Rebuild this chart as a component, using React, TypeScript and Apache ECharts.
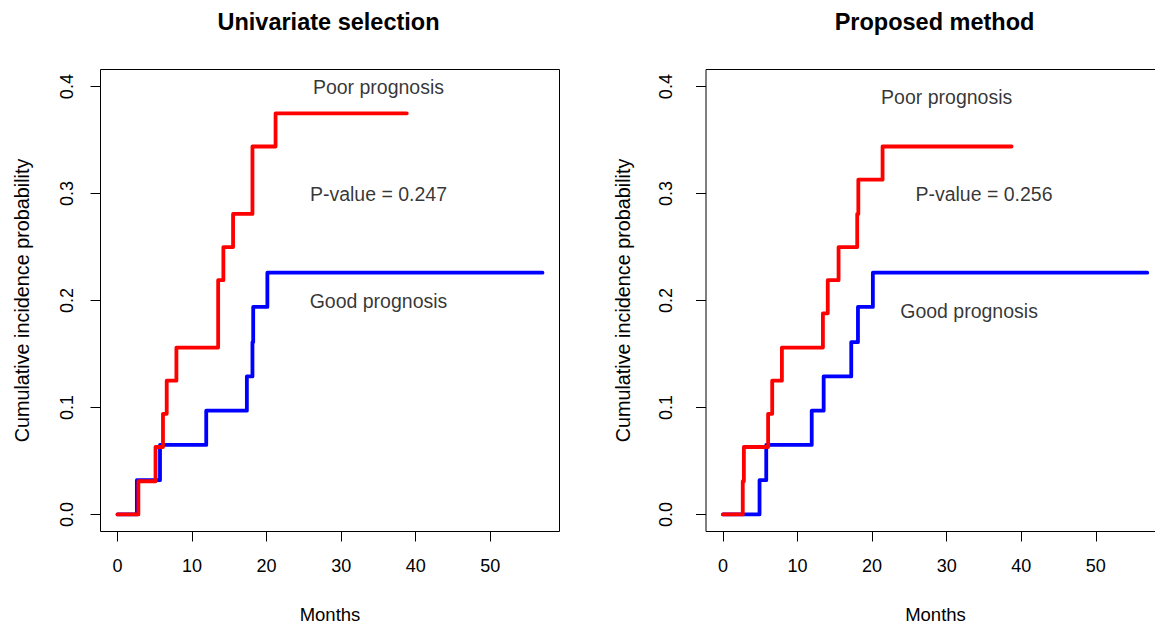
import React, { useEffect, useRef } from "react";
import * as echarts from "echarts";

// ---------- data ----------
const xTicks = [0, 10, 20, 30, 40, 50];
const yTicks = [0, 0.1, 0.2, 0.3, 0.4];

// Univariate selection
const uniPoorTime = [0, 2.8, 5.1, 6.1, 6.6, 7.9, 13.5, 14.2, 15.5, 18.1, 21.2, 38.8];
const uniPoorCI = [0, 0.031, 0.063, 0.094, 0.125, 0.156, 0.219, 0.25, 0.281, 0.344, 0.375, 0.375];
const uniGoodTime = [0, 2.6, 5.7, 11.9, 17.35, 18.1, 18.2, 20.1, 57];
const uniGoodCI = [0, 0.032, 0.065, 0.097, 0.129, 0.161, 0.194, 0.226, 0.226];

// Proposed method
const propPoorTime = [0, 2.65, 2.8, 6.05, 6.6, 7.9, 13.4, 14.05, 15.5, 18.0, 18.15, 21.4, 38.7];
const propPoorCI = [0, 0.031, 0.063, 0.094, 0.125, 0.156, 0.188, 0.219, 0.25, 0.281, 0.313, 0.344, 0.344];
const propGoodTime = [0, 4.9, 5.8, 11.9, 13.5, 17.2, 18.1, 20.1, 56.9];
const propGoodCI = [0, 0.032, 0.065, 0.097, 0.129, 0.161, 0.194, 0.226, 0.226];

const panelTitles = ["Univariate selection", "Proposed method"];
const xName = "Months";
const yName = "Cumulative incidence probability";

// annotations: [x, y, text] in data coordinates
const uniNotes: [number, number, string][] = [
  [35, 0.4, "Poor prognosis"],
  [35, 0.3, "P-value = 0.247"],
  [35, 0.2, "Good prognosis"],
];
const propNotes: [number, number, string][] = [
  [30, 0.39, "Poor prognosis"],
  [35, 0.3, "P-value = 0.256"],
  [33, 0.19, "Good prognosis"],
];

const FONT = "'Liberation Sans', Arial, Helvetica, sans-serif";

function zip(t: number[], v: number[]) {
  return t.map((x, i) => [x, v[i]]);
}

export default function App() {
  const ref = useRef<HTMLDivElement>(null);
  useEffect(() => {
    if (!ref.current) return;
    const chart = echarts.init(ref.current, undefined, { renderer: "svg" });

    const grids = [
      { left: 100.5, top: 69.5, width: 459, height: 462 },
      { left: 706, top: 69.5, width: 459, height: 462 },
    ];
    const labelMargins = [25, 31];
    const nameGaps = [69, 73];

    const xAxis = grids.map((_, i) => ({
      gridIndex: i,
      type: "value",
      position: "bottom",
      min: -2.28,
      max: 59.28,
      axisLine: { show: false, onZero: false },
      splitLine: { show: false },
      axisTick: { show: true, length: 10, customValues: xTicks, lineStyle: { color: "#000", width: 1 } },
      axisLabel: { customValues: xTicks, margin: 25, fontSize: 18, color: "#000", fontFamily: FONT },
      name: xName,
      nameLocation: "middle",
      nameGap: 73,
      nameTextStyle: { fontSize: 18.5, color: "#000", fontFamily: FONT },
    }));
    const yAxis = grids.map((_, i) => ({
      gridIndex: i,
      type: "value",
      position: "left",
      min: -0.016,
      max: 0.416,
      axisLine: { show: false, onZero: false },
      splitLine: { show: false },
      axisTick: { show: true, length: 10, customValues: yTicks, lineStyle: { color: "#000", width: 1 } },
      axisLabel: {
        customValues: yTicks,
        rotate: 90,
        margin: labelMargins[i],
        fontSize: 18,
        color: "#000",
        fontFamily: FONT,
        formatter: (v: number) => v.toFixed(1),
      },
      name: yName,
      nameLocation: "middle",
      nameRotate: 90,
      nameGap: nameGaps[i],
      nameTextStyle: { fontSize: 19.8, color: "#000", fontFamily: FONT },
    }));

    const stepLine = (idx: number, data: number[][], color: string) => ({
      type: "line",
      xAxisIndex: idx,
      yAxisIndex: idx,
      step: "end",
      data,
      symbol: "none",
      lineStyle: { color, width: 3.8, cap: "round", join: "round" },
      silent: true,
    });
    const notes = (idx: number, arr: [number, number, string][]) => ({
      type: "scatter",
      xAxisIndex: idx,
      yAxisIndex: idx,
      symbolSize: 0,
      silent: true,
      data: arr.map((a) => ({ value: [a[0], a[1]], name: a[2] })),
      label: {
        show: true,
        position: "inside",
        formatter: "{b}",
        fontSize: 19.5,
        color: "#000",
        fontFamily: FONT,
        align: "center",
        verticalAlign: "middle",
      },
    });

    chart.setOption({
      animation: false,
      backgroundColor: "#fff",
      grid: grids.map((g) => ({
        ...g,
        show: true,
        borderColor: "#000",
        borderWidth: 1,
        backgroundColor: "transparent",
        containLabel: false,
        outerBoundsMode: "none",
      })),
      xAxis,
      yAxis,
      graphic: [
        {
          type: "text",
          x: 328.5,
          y: 22,
          style: { text: panelTitles[0], fontSize: 23.5, fontWeight: "bold", fontFamily: FONT, fill: "#000", align: "center", verticalAlign: "middle" },
        },
        {
          type: "text",
          x: 934.5,
          y: 22,
          style: { text: panelTitles[1], fontSize: 23.5, fontWeight: "bold", fontFamily: FONT, fill: "#000", align: "center", verticalAlign: "middle" },
        },
      ],
      series: [
        stepLine(0, zip(uniGoodTime, uniGoodCI), "#0000FF"),
        stepLine(0, zip(uniPoorTime, uniPoorCI), "#FF0000"),
        stepLine(1, zip(propGoodTime, propGoodCI), "#0000FF"),
        stepLine(1, zip(propPoorTime, propPoorCI), "#FF0000"),
        notes(0, uniNotes),
        notes(1, propNotes),
      ],
    });
    return () => chart.dispose();
  }, []);
  return <div ref={ref} style={{ position: "fixed", left: 0, top: 0, width: 1155, height: 631 }} />;
}
